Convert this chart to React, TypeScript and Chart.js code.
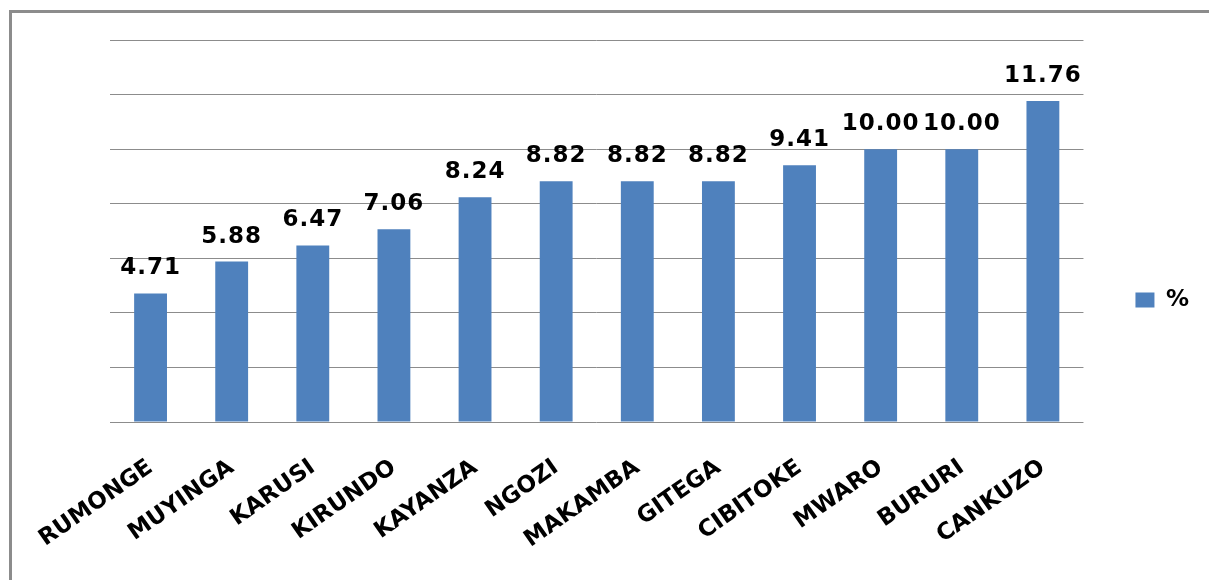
import { useEffect, useRef } from "react";
import { Chart, registerables } from "chart.js";

Chart.register(...registerables);

// Share of respondents per province (%)
const provinces = [
  "RUMONGE",
  "MUYINGA",
  "KARUSI",
  "KIRUNDO",
  "KAYANZA",
  "NGOZI",
  "MAKAMBA",
  "GITEGA",
  "CIBITOKE",
  "MWARO",
  "BURURI",
  "CANKUZO",
];
const percentValues = [4.71, 5.88, 6.47, 7.06, 8.24, 8.82, 8.82, 8.82, 9.41, 10.0, 10.0, 11.76];
const seriesName = "%";
const axisMax = 14;
const axisStep = 2;

const FONT = "'DejaVu Sans', Verdana, sans-serif";
const BAR_COLOR = "#4f81bd";
const GRID_COLOR = "#8c8c8c";

// Value printed above each bar
const valueLabelPlugin = {
  id: "valueLabels",
  afterDatasetsDraw(chart: any) {
    const ctx = chart.ctx;
    const meta = chart.getDatasetMeta(0);
    const values = chart.data.datasets[0].data as number[];
    ctx.save();
    ctx.font = `bold 23px ${FONT}`;
    ctx.letterSpacing = "1px";
    ctx.fillStyle = "#000";
    ctx.textAlign = "center";
    ctx.textBaseline = "alphabetic";
    meta.data.forEach((bar: any, i: number) => {
      ctx.fillText(values[i].toFixed(2), bar.x, bar.y - 19);
    });
    ctx.restore();
  },
};

export default function App() {
  const canvasRef = useRef<HTMLCanvasElement | null>(null);

  useEffect(() => {
    if (!canvasRef.current) return;
    const chart = new Chart(canvasRef.current, {
      type: "bar",
      data: {
        labels: provinces,
        datasets: [
          {
            label: seriesName,
            data: percentValues,
            backgroundColor: BAR_COLOR,
            borderWidth: 0,
            barPercentage: 0.405,
            categoryPercentage: 1,
          },
        ],
      },
      options: {
        responsive: false,
        animation: false,
        layout: { padding: { top: 40, left: 0, right: 10, bottom: 20 } },
        plugins: {
          tooltip: { enabled: false },
          legend: {
            position: "right",
            labels: {
              boxWidth: 19,
              boxHeight: 15,
              padding: 10,
              color: "#000",
              font: { family: FONT, size: 23, weight: "bold" },
            },
          },
        },
        scales: {
          x: {
            grid: { display: false },
            border: { display: false },
            ticks: {
              autoSkip: false,
              minRotation: 35,
              maxRotation: 35,
              padding: 24,
              color: "#000",
              font: { family: FONT, size: 23, weight: "bold" },
            },
            afterFit: (s: any) => {
              s.height = 138;
            },
          },
          y: {
            min: 0,
            max: axisMax,
            ticks: { display: false, stepSize: axisStep },
            grid: { color: GRID_COLOR, lineWidth: 1, drawTicks: false },
            border: { display: false },
            afterFit: (s: any) => {
              s.width = 110;
            },
          },
          gap: {
            type: "linear",
            axis: "y",
            position: "right",
            grid: { display: false },
            border: { display: false },
            ticks: { display: false },
            afterFit: (s: any) => {
              s.width = 42;
            },
          },
        },
      },
      plugins: [valueLabelPlugin],
    } as any);
    return () => chart.destroy();
  }, []);

  return (
    <div
      style={{
        position: "fixed",
        left: 0,
        top: 0,
        width: 1209,
        height: 580,
        overflow: "hidden",
        background: "#fff",
      }}
    >
      <div
        style={{
          position: "absolute",
          left: 9,
          top: 10,
          width: 1240,
          height: 620,
          border: "3px solid #8c8c8c",
          boxSizing: "border-box",
        }}
      />
      <canvas
        ref={canvasRef}
        width={1209}
        height={580}
        style={{ position: "absolute", left: 0, top: 0, width: 1209, height: 580 }}
      />
    </div>
  );
}
